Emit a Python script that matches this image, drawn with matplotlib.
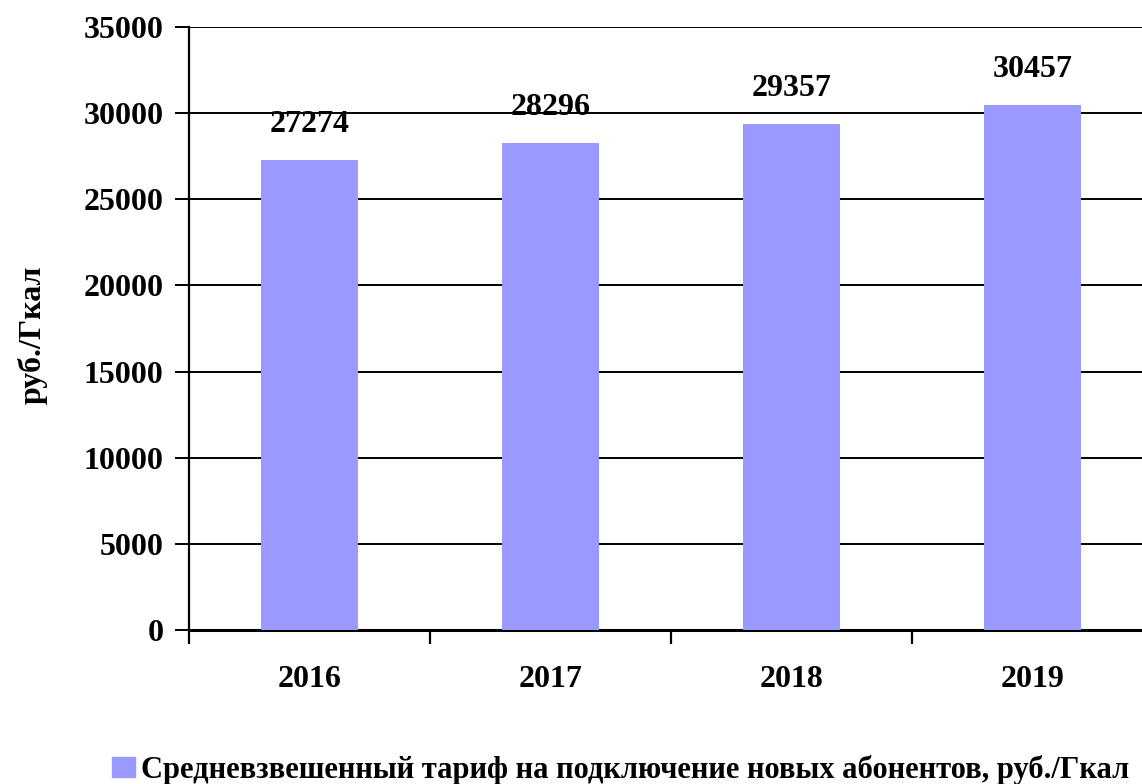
import matplotlib
matplotlib.use("Agg")
import matplotlib.pyplot as plt
from matplotlib.patches import Patch

years = ["2016", "2017", "2018", "2019"]
tariff = [27274, 28296, 29357, 30457]
legend_label = "Средневзвешенный тариф на подключение новых абонентов, руб./Гкал"
y_label = "руб./Гкал"
y_ticks = [0, 5000, 10000, 15000, 20000, 25000, 30000, 35000]

BAR = "#9999FF"
FONT = ["Liberation Serif", "DejaVu Serif"]
plt.rcParams["font.family"] = FONT
plt.rcParams["font.weight"] = "bold"

fig = plt.figure(figsize=(11.42, 7.84), dpi=100)
ax = fig.add_axes([189 / 1142, 1 - 630 / 784, 964 / 1142, 603 / 784])

x = list(range(len(years)))
ax.bar(x, tariff, width=0.4, color=BAR, zorder=3, label=legend_label)
for xi, v in zip(x, tariff):
    ax.annotate(str(v), (xi, v), xytext=(0, 15), textcoords="offset points",
                ha="center", va="bottom", fontsize=23, fontweight="bold")

ax.set_xlim(-0.5, len(years) - 0.5)
ax.set_ylim(0, 35000)
ax.set_yticks(y_ticks)
ax.set_yticklabels([str(t) for t in y_ticks], fontsize=23, fontweight="bold")
ax.yaxis.grid(True, color="black", linewidth=1.4, zorder=0)
ax.tick_params(axis="y", length=10, width=1.4, pad=8.5, direction="out")

# деления между категориями, подписи по центру
ax.set_xticks([i - 0.5 for i in range(len(years) + 1)])
ax.set_xticklabels([])
ax.set_xticks(x, minor=True)
ax.set_xticklabels(years, minor=True, fontsize=23, fontweight="bold")
ax.tick_params(axis="x", which="major", length=10, width=1.6, direction="out")
ax.tick_params(axis="x", which="minor", length=0, pad=25)

for s in ["top", "right"]:
    ax.spines[s].set_visible(False)
ax.spines["left"].set_linewidth(1.6)
ax.spines["bottom"].set_linewidth(2.2)

fig.text(33 / 1142, 1 - 335 / 784, y_label, rotation=90, ha="center", va="center",
         fontsize=23, fontweight="bold")

fig.legend(handles=[Patch(color=BAR, label=legend_label)], loc="center left",
           bbox_to_anchor=(112 / 1142, 1 - 770 / 784), frameon=False,
           borderpad=0, borderaxespad=0, handlelength=0.75, handleheight=0.65,
           handletextpad=0.2, prop={"size": 22, "weight": "bold"})

fig.savefig("out.png", dpi=100)
